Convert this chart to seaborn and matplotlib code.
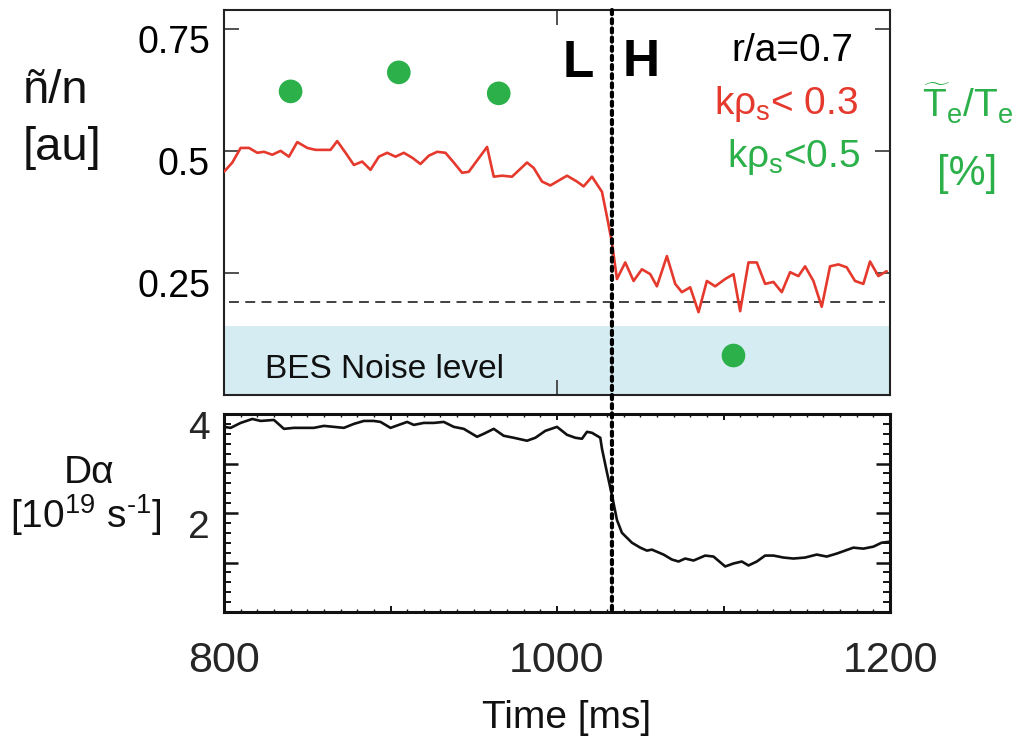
import matplotlib
matplotlib.use("Agg")
import matplotlib.pyplot as plt
import seaborn as sns
import pandas as pd
from matplotlib import font_manager
from matplotlib.transforms import ScaledTranslation
from matplotlib.patches import ConnectionPatch
from matplotlib.ticker import FixedLocator, MultipleLocator, FuncFormatter, NullFormatter

# ---------------- data ----------------
fluct_time = [800, 805, 810, 815, 820, 824, 829, 834, 839, 844, 850, 855, 864, 868, 873,
              878, 883, 888, 893, 898, 903, 908, 913, 918, 923, 928, 933, 938, 943, 947,
              958, 962, 967, 973, 982, 986, 991, 996, 1001, 1006, 1012, 1016, 1021, 1027, 1030,
              1033, 1036, 1041, 1046, 1051, 1056, 1060, 1066, 1071, 1075, 1080, 1085, 1090, 1095, 1101,
              1106, 1110, 1115, 1120, 1125, 1130, 1135, 1140, 1145, 1149, 1154, 1159, 1164, 1169, 1174,
              1179, 1184, 1188, 1193, 1198]
fluct_level = [0.458, 0.477, 0.507, 0.507, 0.497, 0.499, 0.493, 0.501, 0.489, 0.519, 0.507, 0.503, 0.503, 0.521, 0.497,
               0.472, 0.479, 0.462, 0.489, 0.497, 0.489, 0.497, 0.487, 0.474, 0.491, 0.499, 0.497, 0.477, 0.456, 0.458,
               0.509, 0.448, 0.450, 0.448, 0.477, 0.466, 0.438, 0.430, 0.440, 0.450, 0.438, 0.428, 0.448, 0.417, 0.366,
               0.313, 0.238, 0.272, 0.234, 0.258, 0.248, 0.223, 0.285, 0.228, 0.211, 0.221, 0.170, 0.234, 0.223, 0.238,
               0.248, 0.172, 0.272, 0.272, 0.228, 0.232, 0.211, 0.252, 0.244, 0.264, 0.234, 0.181, 0.264, 0.268, 0.262,
               0.234, 0.228, 0.274, 0.244, 0.254]

te_time = [840, 905, 965, 1106]
te_level = [0.623, 0.662, 0.619, 0.081]

dalpha_time = [800, 804, 810, 817, 822, 830, 836, 842, 848, 854, 860, 866, 872, 878, 884,
               890, 894, 900, 905, 910, 914, 920, 926, 932, 938, 944, 952, 956, 962, 968,
               974, 982, 987, 993, 1000, 1006, 1011, 1015, 1018, 1021, 1026, 1027, 1030, 1033, 1036,
               1039, 1045, 1050, 1054, 1057, 1064, 1069, 1073, 1077, 1082, 1089, 1094, 1101, 1106, 1111,
               1115, 1120, 1125, 1130, 1136, 1142, 1149, 1156, 1162, 1168, 1173, 1178, 1184, 1190, 1195, 1200]
dalpha_level = [3.74, 3.72, 3.82, 3.90, 3.86, 3.88, 3.70, 3.72, 3.72, 3.72, 3.76, 3.74, 3.72, 3.80, 3.86,
                3.86, 3.84, 3.72, 3.78, 3.84, 3.78, 3.82, 3.82, 3.84, 3.74, 3.70, 3.54, 3.60, 3.70, 3.56,
                3.52, 3.46, 3.52, 3.66, 3.74, 3.58, 3.52, 3.50, 3.64, 3.62, 3.52, 3.30, 2.82, 2.36, 1.86,
                1.60, 1.40, 1.30, 1.24, 1.26, 1.16, 1.06, 1.02, 1.08, 1.04, 1.14, 1.12, 0.92, 0.98, 1.02,
                0.94, 1.02, 1.14, 1.14, 1.10, 1.08, 1.10, 1.16, 1.12, 1.18, 1.24, 1.30, 1.28, 1.32, 1.40, 1.42]

lh_time = 1033
noise_floor = 0.191
bes_noise_top = 0.142
top_yticks = [0.25, 0.5, 0.75]
time_ticklabels = [800, 1000, 1200]

RED = "#e5392d"
GREEN = "#2bb04a"

# ---------------- style ----------------
sns.set_theme(style="white")
names = {f.name for f in font_manager.fontManager.ttflist}
narrow = "Liberation Sans Narrow" if "Liberation Sans Narrow" in names else "Liberation Sans"
plt.rcParams["font.family"] = ["Liberation Sans", "DejaVu Sans"]
plt.rcParams["mathtext.fontset"] = "custom"
plt.rcParams["mathtext.rm"] = "Liberation Sans"
plt.rcParams["mathtext.it"] = "Liberation Sans"
plt.rcParams["mathtext.bf"] = "Liberation Sans:bold"
plt.rcParams["mathtext.sf"] = "Liberation Sans"

W, H = 1017, 747
fig = plt.figure(figsize=(W / 100, H / 100), dpi=100)


def fx(x):
    return x / W


def fy(y):
    return 1 - y / H


ax1 = fig.add_axes([fx(224), fy(395), fx(890) - fx(224), fy(10) - fy(395)])
ax2 = fig.add_axes([fx(224), fy(612), fx(890) - fx(224), fy(414) - fy(612)])

# ---------------- top panel ----------------
ax1.axhspan(0, bes_noise_top, color="#d5edf2", lw=0, zorder=0)
ax1.axhline(noise_floor, xmin=0.008, xmax=0.992, color="#333333", lw=1.3,
            ls=(0, (5.5, 3.5)), zorder=1)
df_f = pd.DataFrame({"t": fluct_time, "v": fluct_level})
sns.lineplot(data=df_f, x="t", y="v", ax=ax1, color=RED, lw=1.9, zorder=3)
df_te = pd.DataFrame({"t": te_time, "v": te_level})
sns.scatterplot(data=df_te, x="t", y="v", ax=ax1, color=GREEN, s=290,
                edgecolor="none", zorder=4)
ax1.set_xlim(800, 1200)
ax1.set_ylim(0, 0.79)
ax1.set_xlabel("")
ax1.set_ylabel("")
ax1.xaxis.set_major_locator(FixedLocator(time_ticklabels))
ax1.xaxis.set_major_formatter(NullFormatter())
ax1.yaxis.set_major_locator(FixedLocator(top_yticks))
ax1.yaxis.set_major_formatter(FuncFormatter(lambda v, p: f"{v:g}"))
ax1.tick_params(axis="both", which="major", direction="in", length=11, width=1.2,
                color="#333333", top=True, right=True, bottom=True, left=True)
ax1.tick_params(axis="y", labelsize=27, pad=10, labelcolor="black")
for s in ax1.spines.values():
    s.set_linewidth(1.5)
    s.set_color("#222222")

ax1.text(fx(265), fy(378), "BES Noise level", transform=fig.transFigure,
         fontsize=24, color="#111111", ha="left", va="baseline")
ax1.text(fx(578), fy(77), "L", transform=fig.transFigure, family=narrow,
         fontsize=37, fontweight="bold", ha="center", va="baseline", color="black")
ax1.text(fx(641), fy(76), "H", transform=fig.transFigure, family=narrow,
         fontsize=37, fontweight="bold", ha="center", va="baseline", color="black")
ax1.text(fx(853), fy(61), "r/a=0.7", transform=fig.transFigure,
         fontsize=28, ha="right", va="baseline", color="black")
ax1.text(fx(858), fy(114), r"k$\rho_{\rm s}$< 0.3", transform=fig.transFigure,
         fontsize=28, ha="right", va="baseline", color=RED)
ax1.text(fx(860), fy(167), r"k$\rho_{\rm s}$<0.5", transform=fig.transFigure,
         fontsize=28, ha="right", va="baseline", color=GREEN)

# ---------------- bottom panel ----------------
df_d = pd.DataFrame({"t": dalpha_time, "v": dalpha_level})
sns.lineplot(data=df_d, x="t", y="v", ax=ax2, color="#111111", lw=1.9)
ax2.set_xlim(800, 1200)
ax2.set_ylim(0, 4)
ax2.set_xlabel("")
ax2.set_ylabel("")
ax2.xaxis.set_major_locator(MultipleLocator(100))
ax2.xaxis.set_minor_locator(MultipleLocator(10))
ax2.xaxis.set_major_formatter(FuncFormatter(
    lambda v, p: f"{v:.0f}" if round(v) in time_ticklabels else ""))
ax2.yaxis.set_major_locator(MultipleLocator(1))
ax2.yaxis.set_minor_locator(MultipleLocator(0.2))
ax2.yaxis.set_major_formatter(FuncFormatter(
    lambda v, p: f"{v:.0f}" if round(v) in (2, 4) else ""))
ax2.tick_params(axis="both", which="both", direction="in", top=True, right=True,
                bottom=True, left=True, color="#111111")
ax2.tick_params(axis="x", which="major", length=4, width=1.4, labelsize=31, pad=21)
ax2.tick_params(axis="x", which="minor", length=2.5, width=1.0)
ax2.tick_params(axis="y", which="major", length=10, width=1.8, labelsize=28, pad=10)
ax2.tick_params(axis="y", which="minor", length=5, width=1.4)
for s in ax2.spines.values():
    s.set_linewidth(2.2)
    s.set_color("#111111")

# shift y tick labels slightly downward as in the reference
off = ScaledTranslation(0, -0.10, fig.dpi_scale_trans)
for lab in ax1.get_yticklabels():
    lab.set_transform(lab.get_transform() + off)
off2 = ScaledTranslation(0, -0.11, fig.dpi_scale_trans)
for lab in ax2.get_yticklabels():
    lab.set_transform(lab.get_transform() + off2)

# ---------------- L-H transition line ----------------
con = ConnectionPatch(xyA=(lh_time, 0.79), coordsA=ax1.transData,
                      xyB=(lh_time, 0), coordsB=ax2.transData,
                      color="black", lw=3.0, ls=(0, (1, 1.2)), zorder=10)
fig.add_artist(con)

# ---------------- axis titles ----------------
fig.text(fx(23), fy(103), "ñ/n", fontsize=34, ha="left", va="baseline", color="#111111")
fig.text(fx(23), fy(160), "[au]", fontsize=34, ha="left", va="baseline", color="#111111")

fig.text(fx(968), fy(118), r"$\widetilde{\rm T}_{\rm e}/{\rm T}_{\rm e}$", fontsize=28,
         ha="center", va="baseline", color=GREEN)
fig.text(fx(967), fy(185), "[%]", fontsize=30, ha="center", va="baseline", color=GREEN)

fig.text(fx(89), fy(483), "Dα", fontsize=28, ha="center", va="baseline", color="#111111")
fig.text(fx(86), fy(528), r"[10$^{19}$ s$^{\text{-}1}$]", fontsize=28, ha="center",
         va="baseline", color="#111111")

fig.text(fx(567), fy(728), "Time [ms]", fontsize=28, ha="center", va="baseline",
         color="#111111")

fig.savefig("out.png", dpi=100)
